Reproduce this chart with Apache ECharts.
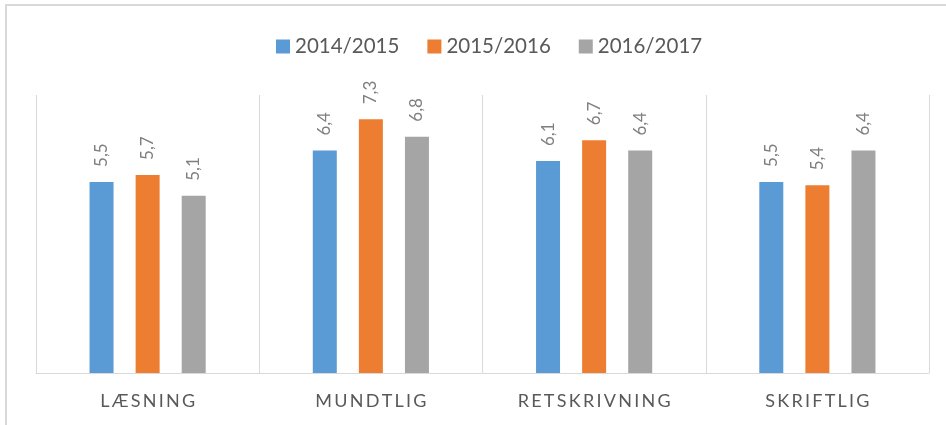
<!DOCTYPE html>
<html>
<head>
<meta charset="utf-8">
<script src="https://cdn.jsdelivr.net/npm/echarts@6/dist/echarts.min.js"></script>
<style>
  html, body { margin: 0; padding: 0; background: #ffffff; }
  .frame {
    position: absolute; left: 5px; top: 4px; right: 0; bottom: 0;
    border-left: 2px solid #d9d9d9; border-top: 2px solid #d9d9d9;
  }
  #chart { position: absolute; left: 0; top: 0; width: 946px; height: 425px; }
</style>
</head>
<body>
<div class="frame"></div>
<div id="chart"></div>
<script>
// kategorier og værdier
const categories = ['LÆSNING', 'MUNDTLIG', 'RETSKRIVNING', 'SKRIFTLIG'];
const seriesNames = ['2014/2015', '2015/2016', '2016/2017'];
const values2014 = [5.5, 6.4, 6.1, 5.5];
const values2015 = [5.7, 7.3, 6.7, 5.4];
const values2016 = [5.1, 6.8, 6.4, 6.4];
const colors = ['#5b9bd5', '#ed7d31', '#a5a5a5'];

const chartInstance = echarts.init(document.getElementById('chart'));

// spærret skrift (letter spacing) med tynde mellemrum
const spaced = (s) => s.split('').join('\u2009');

const makeSeries = (name, data, color) => ({
  name: name,
  type: 'bar',
  data: data,
  barWidth: 24,
  barGap: '92%',
  itemStyle: { color: color },
  label: {
    show: true,
    position: 'top',
    rotate: 90,
    align: 'left',
    verticalAlign: 'middle',
    distance: 15,
    color: '#7f7f7f',
    fontFamily: 'Lato',
    fontSize: 17,
    formatter: (p) => p.value.toFixed(1).replace('.', ',')
  }
});

const option = {
  animation: false,
  color: colors,
  legend: {
    top: 31,
    left: 271,
    itemWidth: 14,
    itemHeight: 14,
    itemGap: 28,
    icon: 'rect',
    textStyle: { color: '#595959', fontFamily: 'Lato', fontSize: 20.5 },
    data: seriesNames
  },
  grid: { left: 36, right: 17, top: 95, bottom: 52, containLabel: false },
  xAxis: {
    type: 'category',
    data: categories,
    axisLine: { lineStyle: { color: '#d9d9d9', width: 1 } },
    axisTick: { show: false },
    splitLine: { show: true, lineStyle: { color: '#d9d9d9', width: 1 } },
    axisLabel: {
      color: '#595959',
      fontFamily: 'Lato',
      fontSize: 18,
      margin: 19,
      formatter: spaced
    }
  },
  yAxis: {
    type: 'value',
    min: 0,
    max: 8,
    show: false,
    splitLine: { show: false }
  },
  series: [
    makeSeries(seriesNames[0], values2014, colors[0]),
    makeSeries(seriesNames[1], values2015, colors[1]),
    makeSeries(seriesNames[2], values2016, colors[2])
  ]
};

chartInstance.setOption(option);
</script>
</body>
</html>
